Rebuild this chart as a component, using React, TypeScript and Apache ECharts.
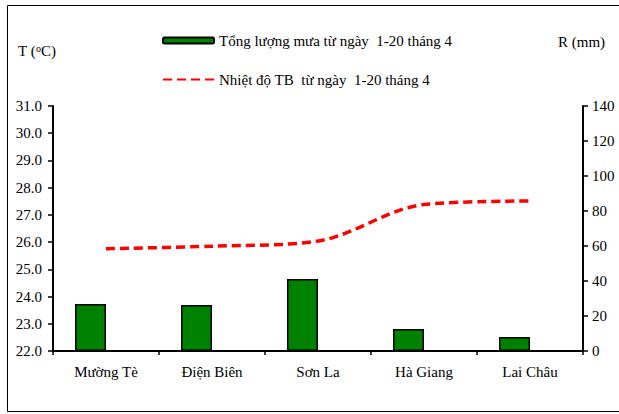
import React, { useEffect, useRef } from "react";
import * as echarts from "echarts";

const categories = ["Mường Tè", "Điện Biên", "Sơn La", "Hà Giang", "Lai Châu"];
const rainfall = [26.9, 26.3, 41.1, 12.6, 8.0];
const temperature = [25.76, 25.85, 26.04, 27.38, 27.51];
const rainName = "Tổng lượng mưa từ ngày  1-20 tháng 4";
const tempName = "Nhiệt độ TB  từ ngày  1-20 tháng 4";

const FONT = "Liberation Serif";

export default function App() {
  const ref = useRef<HTMLDivElement>(null);
  useEffect(() => {
    if (!ref.current) return;
    const chart = echarts.init(ref.current, null, { renderer: "svg" });
    chart.setOption({
      animation: false,
      backgroundColor: "#ffffff",
      textStyle: { fontFamily: FONT, color: "#000" },
      grid: { left: 53, right: 36, top: 106, bottom: 63, containLabel: false },
      legend: {
        orient: "vertical",
        left: 162,
        top: 33,
        padding: 0,
        itemWidth: 51,
        itemHeight: 6,
        itemGap: 24,
        data: [rainName, { name: tempName, itemStyle: { opacity: 0 } }],
        textStyle: { fontFamily: FONT, fontSize: 15, color: "#000" },
      },
      graphic: [
        {
          type: "rect",
          shape: { x: 7.5, y: 5.5, width: 620, height: 406 },
          style: { fill: "none", stroke: "#000", lineWidth: 1 },
          silent: true,
        },
        {
          type: "text",
          left: 18,
          top: 43,
          style: {
            text: "{a|T (}{b|o}{a|C)}",
            rich: {
              a: { fontFamily: FONT, fontSize: 15, fill: "#000" },
              b: { fontFamily: FONT, fontSize: 10, fill: "#000", verticalAlign: "top", padding: [0, 0, 6, 0] },
            },
          },
        },
        {
          type: "text",
          left: 558,
          top: 34,
          style: { text: "R (mm)", fontFamily: FONT, fontSize: 15, fill: "#000" },
        },
      ],
      xAxis: {
        type: "category",
        data: categories,
        axisLine: { lineStyle: { color: "#000", width: 2 } },
        axisTick: { show: true, length: 4, lineStyle: { color: "#000", width: 1.5 } },
        axisLabel: { fontFamily: FONT, fontSize: 15, color: "#000", margin: 13 },
        splitLine: { show: false },
      },
      yAxis: [
        {
          type: "value",
          min: 22,
          max: 31,
          interval: 1,
          axisLine: { show: true, lineStyle: { color: "#000", width: 2 } },
          axisTick: { show: true, length: 5, lineStyle: { color: "#000", width: 1.5 } },
          axisLabel: {
            fontFamily: FONT,
            fontSize: 15,
            color: "#000",
            margin: 11,
            formatter: (v: number) => v.toFixed(1),
          },
          splitLine: { show: false },
        },
        {
          type: "value",
          min: 0,
          max: 140,
          interval: 20,
          position: "right",
          axisLine: { show: true, lineStyle: { color: "#000", width: 2 } },
          axisTick: { show: true, length: 5, lineStyle: { color: "#000", width: 1.5 } },
          axisLabel: { fontFamily: FONT, fontSize: 15, color: "#000", margin: 9 },
          splitLine: { show: false },
        },
      ],
      series: [
        {
          name: rainName,
          type: "bar",
          yAxisIndex: 1,
          data: rainfall,
          barWidth: 31,
          barGap: "0%",
          itemStyle: { color: "#008000", borderColor: "#000", borderWidth: 1.5 },
        },
        {
          name: "_spacer",
          type: "bar",
          yAxisIndex: 1,
          data: rainfall.map(() => 0),
          barWidth: 31,
          barGap: "0%",
          itemStyle: { color: "transparent", borderWidth: 0 },
          silent: true,
        },
        {
          name: tempName,
          type: "line",
          yAxisIndex: 0,
          data: temperature,
          smooth: 0.33,
          symbol: "none",
          showSymbol: false,
          lineStyle: { color: "#ff0000", width: 3.5, type: [9, 5] },
          itemStyle: { color: "#ff0000" },
        },
      ],
    });
    return () => chart.dispose();
  }, []);
  return (
    <div
      ref={ref}
      style={{ position: "absolute", left: 0, top: 0, width: 619, height: 414 }}
    />
  );
}
